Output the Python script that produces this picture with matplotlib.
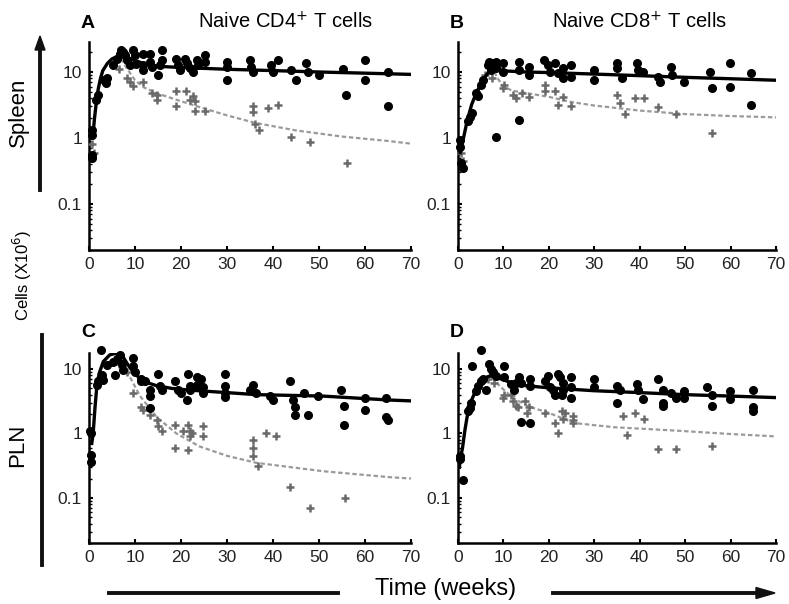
import matplotlib as mpl
mpl.use('Agg')
import matplotlib.pyplot as plt
from matplotlib.lines import Line2D
import numpy as np

plt.rcParams['font.family'] = ['Liberation Sans', 'DejaVu Sans']

# ---- data (weeks, cells x10^6) ----
# panel A: naive CD4, spleen
a_dot_t = [0.7, 0.7, 0.7, 0.7, 1.6, 1.9, 3.3, 3.7, 4.0, 5.3, 6.0, 6.7, 7.0, 7.4, 7.8, 8.2, 8.9, 9.6, 9.9, 10.3,
           11.8, 11.8, 11.8, 13.2, 13.2, 13.6, 15.0, 15.8, 15.8, 15.5, 19.0, 19.4, 19.7, 20.8, 21.2, 21.9, 22.6,
           23.4, 23.7, 25.2, 25.2, 29.9, 29.9, 29.9, 34.9, 35.3, 35.6, 39.6, 40.0, 41.0, 44.0, 45.0, 47.2, 47.6,
           50.1, 55.2, 55.9, 59.9, 59.9, 64.9, 64.9]
a_dot_v = [1.3, 1.1, 0.55, 0.5, 3.8, 4.5, 7.6, 6.8, 8.0, 12.8, 16, 19, 21.5, 20, 18, 15, 12.8, 21.5, 18, 13,
           19, 12.8, 10.7, 19, 14, 12, 9, 21.5, 15, 12.8, 16, 12.8, 10.7, 16, 13.5, 11.5, 10,
           15, 12.8, 18, 14, 14, 12, 7.6, 15, 12, 10, 12.8, 10, 15, 10.7, 7.6, 13.5, 10,
           9, 11, 4.5, 15, 7.6, 10, 3]
a_crs_t = [0.6, 1.0, 6.5, 8.2, 8.9, 9.6, 11.8, 13.6, 14.7, 14.7, 19.0, 21.0, 19.0, 22.0, 22.6, 23.0, 23.0, 25.2,
           35.6, 35.6, 36.0, 37.0, 39.0, 41.0, 44.0, 48.0, 56.0]
a_crs_v = [0.8, 0.6, 11, 8, 7, 6.1, 7, 4.8, 4.5, 3.8, 5.2, 5.2, 3.0, 3.8, 4.3, 3.6, 2.6, 2.6,
           3.0, 2.5, 1.6, 1.3, 2.8, 3.2, 1.05, 0.88, 0.41]
a_fit_t = [0.8, 1.2, 1.6, 2.0, 2.5, 3, 4, 5, 6, 7, 8, 10, 12, 15, 20, 30, 40, 50, 60, 70]
a_fit_v = [1.0, 2.0, 3.5, 5.5, 8, 10.5, 13.5, 15.8, 17, 17.5, 17, 15, 13.3, 12.2, 11.7, 11, 10.5, 10, 9.6, 9.2]
a_dsh_t = [7, 8, 10, 12, 15, 20, 25, 30, 36, 45, 55, 65, 70]
a_dsh_v = [16, 12, 7.5, 5.8, 4.7, 3.6, 2.8, 2.2, 1.7, 1.3, 1.05, 0.9, 0.82]

# panel B: naive CD8, spleen
b_dot_t = [0.4, 0.4, 0.6, 1.0, 2.2, 2.6, 3.0, 4.0, 4.4, 5.1, 5.5, 6.5, 6.9, 7.2, 7.6, 8.4, 8.4, 8.4, 9.8, 9.8,
           13.4, 13.4, 13.4, 15.6, 15.6, 18.9, 19.9, 20.2, 21.3, 22.0, 23.1, 23.1, 24.9, 24.9, 29.9, 29.9,
           35.0, 35.0, 36.0, 39.3, 39.7, 40.8, 44.0, 44.4, 46.9, 47.2, 49.8, 55.5, 55.9, 59.8, 59.8, 64.5, 64.5]
b_dot_v = [0.93, 0.74, 0.41, 0.35, 1.8, 2.1, 2.4, 4.8, 4.3, 6.4, 7.6, 12.8, 14, 10.7, 13.5, 1.05, 14, 11.5, 13.5, 10,
           14, 1.9, 10.7, 12, 9, 15, 12.8, 10, 13.5, 9.5, 11.5, 8, 12.8, 8.5, 10.7, 7.6,
           13.5, 11.5, 8, 13.5, 10.7, 10, 8.5, 7, 12, 9, 7, 10, 5.7, 13.5, 6, 9.5, 3.2]
b_crs_t = [0.6, 1.0, 6.0, 7.5, 9.8, 10.1, 12.0, 12.7, 14.1, 15.6, 19.2, 19.2, 21.3, 22.0, 23.1, 24.9,
           35.0, 35.7, 36.8, 39.0, 41.0, 44.0, 47.9, 55.9]
b_crs_v = [0.6, 0.45, 9, 8, 5.7, 6.4, 4.5, 4.0, 4.8, 4.2, 6.4, 5.2, 5.2, 3.2, 4.2, 3.0,
           4.5, 3.4, 2.3, 4.0, 4.0, 2.9, 2.3, 1.2]
b_fit_t = [0.5, 1, 2, 3, 4, 5, 6, 7, 8, 9, 10, 15, 20, 30, 40, 50, 60, 70]
b_fit_v = [0.6, 0.85, 1.8, 3.2, 4.8, 6.5, 8.5, 10.5, 11.5, 11, 10.4, 10, 9.8, 9.3, 8.8, 8.3, 7.9, 7.5]
b_dsh_t = [8, 9, 10, 12, 15, 20, 25, 30, 40, 50, 60, 70]
b_dsh_v = [10, 7.5, 6, 5.2, 4.8, 4.2, 3.5, 3.1, 2.6, 2.3, 2.15, 2.05]

# panel C: naive CD4, PLN
c_dot_t = [0.2, 0.5, 0.5, 0.5, 1.7, 2.0, 2.7, 3.1, 2.8, 4.0, 5.3, 6.0, 6.7, 7.1, 7.4, 5.6, 9.6, 9.6, 10.0,
           11.4, 11.4, 12.1, 13.2, 13.2, 13.2, 15.0, 15.4, 15.8, 18.7, 19.4, 20.1, 21.2, 21.5, 21.9, 21.9,
           23.4, 23.4, 24.4, 24.8, 24.8, 29.5, 29.5, 29.5, 29.5, 34.9, 35.6, 36.4, 39.3, 40.0,
           43.6, 44.3, 44.7, 44.7, 46.8, 47.6, 49.8, 54.8, 55.5, 55.5, 59.9, 59.9, 64.6, 64.6, 64.9]
c_dot_v = [1.1, 1.0, 0.47, 0.36, 5.6, 6.5, 19.7, 6.7, 8, 11.5, 13, 14.5, 16.5, 12, 9.6, 8.1, 15, 11, 9,
           7, 6.5, 6.5, 4.7, 3.8, 2.5, 8.5, 5.4, 4.8, 6.5, 4.8, 4.2, 3.3, 8.5, 5.4, 4.8,
           7.5, 5.6, 7, 5.2, 4.2, 8.5, 5.4, 4.2, 3.7, 4.8, 5.6, 4.2, 3.8, 3.3,
           6.5, 3.3, 2.6, 1.9, 4.2, 1.9, 3.8, 4.7, 2.7, 1.35, 3.6, 2.3, 3.6, 1.8, 1.6]
c_crs_t = [6.5, 8.2, 9.6, 11.4, 11.8, 13.2, 14.7, 15.0, 15.8, 18.7, 18.7, 20.5, 21.5, 21.9, 22.3, 21.5, 21.9,
           24.8, 24.8, 35.6, 35.6, 35.6, 36.7, 38.5, 40.7, 43.6, 48.0, 55.7]
c_crs_v = [12, 9, 4.2, 2.6, 2.3, 1.9, 1.6, 1.3, 1.1, 1.35, 0.59, 1.1, 1.35, 1.1, 1.0, 0.55, 0.9,
           1.3, 0.9, 0.79, 0.59, 0.45, 0.31, 1.0, 0.9, 0.15, 0.07, 0.1]
c_fit_t = [0.6, 0.9, 1.3, 1.7, 2.2, 3.1, 4.5, 5.5, 6.7, 7.5, 8.5, 9.6, 11, 12.5, 14.7, 18, 21.9, 30, 36.4, 50.8, 65.3, 70]
c_fit_v = [0.7, 1.0, 2.5, 5.4, 8.5, 13, 16.5, 17.3, 17.5, 15, 11.5, 9, 7.2, 6.2, 5.5, 5.0, 4.7, 4.3, 4.0, 3.8, 3.3, 3.2]
c_dsh_t = [6.7, 8.9, 11.1, 14.7, 19, 24, 30, 36.4, 50.8, 65.3, 70]
c_dsh_v = [14.5, 7.5, 3.8, 1.8, 1.0, 0.63, 0.45, 0.35, 0.26, 0.21, 0.2]

# panel D: naive CD8, PLN
d_dot_t = [0.43, 0.43, 1.15, 2.2, 2.6, 2.9, 3.1, 4.0, 4.4, 5.1, 5.5, 5.1, 6.2, 6.9, 7.3, 7.6, 8.4, 10.1, 10.1,
           11.6, 12.3, 12.7, 13.4, 13.8, 13.8, 15.9, 15.9, 15.9, 19.2, 19.9, 20.2, 21.0, 21.3,
           22.0, 22.4, 23.1, 23.1, 22.8, 24.9, 24.9, 24.9, 29.9, 29.9, 35.0, 35.0, 35.7, 39.3, 39.7, 40.8,
           44.0, 45.1, 45.1, 45.1, 46.9, 48.0, 49.8, 49.8, 54.8, 55.9, 55.9, 59.8, 59.8, 64.9, 64.9, 64.9]
d_dot_v = [0.45, 0.4, 0.19, 2.2, 2.5, 3.0, 11, 4.5, 5.5, 6.5, 7, 20, 4.8, 11.8, 10, 9, 7.8, 11, 7.5,
           5.8, 4.8, 6, 7.5, 6, 1.48, 7, 5.5, 1.45, 6.5, 7.8, 5.2, 4.8, 4,
           8.3, 7.5, 6, 4.8, 4, 7.5, 5.2, 3.6, 7, 5.2, 5.5, 3, 4.8, 5.8, 4.8, 3.4,
           7, 4.8, 3, 2.7, 4.3, 3.6, 4.6, 3.6, 5.2, 4, 2.7, 4.6, 3.4, 4.8, 2.6, 2.2]
d_crs_t = [6.5, 8.0, 9.8, 10.1, 11.6, 12.0, 12.7, 13.1, 14.8, 15.2, 15.6, 19.2, 21.3, 22.0, 22.8, 23.5, 23.1,
           25.3, 25.3, 25.3, 36.3, 37.2, 39.0, 41.0, 44.0, 47.9, 55.9]
d_crs_v = [7, 6, 3.6, 4, 4, 3.2, 2.7, 2.6, 3.2, 2.1, 2.6, 2.1, 1.45, 1.03, 2.2, 2.1, 1.7,
           1.87, 1.6, 1.45, 1.87, 0.95, 2.1, 1.65, 0.57, 0.57, 0.65]
d_fit_t = [0.3, 0.5, 1, 1.5, 2, 3, 4, 5, 6, 7, 8, 10, 12, 15, 20, 30, 40, 50, 60, 70]
d_fit_v = [0.3, 0.4, 0.6, 1.1, 1.8, 3.3, 4.8, 6.2, 7.3, 7.8, 7.6, 6.8, 6.0, 5.5, 5.1, 4.6, 4.3, 4.0, 3.8, 3.6]
d_dsh_t = [7.5, 9.1, 12, 15.6, 19.9, 25.6, 34.3, 48.7, 60, 70]
d_dsh_v = [7.5, 5.5, 3.6, 2.6, 2.1, 1.45, 1.25, 1.1, 0.98, 0.9]

panels = [
    ('A', 'Naive CD4$^{+}$ T cells', a_dot_t, a_dot_v, a_crs_t, a_crs_v, a_fit_t, a_fit_v, a_dsh_t, a_dsh_v),
    ('B', 'Naive CD8$^{+}$ T cells', b_dot_t, b_dot_v, b_crs_t, b_crs_v, b_fit_t, b_fit_v, b_dsh_t, b_dsh_v),
    ('C', None, c_dot_t, c_dot_v, c_crs_t, c_crs_v, c_fit_t, c_fit_v, c_dsh_t, c_dsh_v),
    ('D', None, d_dot_t, d_dot_v, d_crs_t, d_crs_v, d_fit_t, d_fit_v, d_dsh_t, d_dsh_v),
]

W, H = 789, 604
fig = plt.figure(figsize=(W / 100, H / 100), dpi=100)

# axes boxes in pixels: left, top, right, bottom
boxes = [(89, 42, 411, 250), (458, 42, 776, 250), (89, 353, 411, 543), (458, 353, 776, 543)]
ytops = [28.5, 28.5, 17.7, 17.7]
titlex = [0.61, 0.57]

for i, (letter, title, dt, dv, ct, cv, ft, fv, st, sv) in enumerate(panels):
    l, t, r, b = boxes[i]
    ax = fig.add_axes([l / W, 1 - b / H, (r - l) / W, (b - t) / H])
    ax.set_yscale('log')
    ax.set_xlim(0, 70)
    ax.set_ylim(0.02, ytops[i])

    ax.plot(st, sv, color='#9a9a9a', lw=1.6, dashes=(2, 1.2), zorder=2)
    ax.plot(ct, cv, '+', color='#6a6a6a', ms=6, mew=1.8, clip_on=False, zorder=3)
    ax.plot(ft, fv, color='black', lw=2.4, zorder=4)
    ax.plot(dt, dv, 'o', color='black', ms=5.5, clip_on=False, zorder=5)

    for s in ['top', 'right']:
        ax.spines[s].set_visible(False)
    for s in ['left', 'bottom']:
        ax.spines[s].set_linewidth(1.8)
    ax.set_xticks(np.arange(0, 71, 10))
    ax.set_yticks([0.1, 1, 10])
    ax.set_yticklabels(['0.1', '1', '10'])
    ax.tick_params(which='major', direction='in', length=3, width=1.5, labelsize=12.5,
                   labelcolor='#222222', pad=5)
    ax.tick_params(which='minor', direction='in', length=2, width=1)

    ax.text(-0.025, 1.11 if i >= 2 else 1.09, letter, transform=ax.transAxes,
            fontsize=14, fontweight='bold', ha='left', va='center')
    if title:
        ax.text(titlex[i], 1.096, title, transform=ax.transAxes, fontsize=14.5,
                ha='center', va='center')

# side labels
fig.text(18 / W, 1 - 112 / H, 'Spleen', rotation=90, fontsize=16, ha='center', va='center')
fig.text(22 / W, 1 - 275 / H, 'Cells (X10$^{6}$)', rotation=90, fontsize=12, ha='center', va='center')
fig.text(18 / W, 1 - 445 / H, 'PLN', rotation=90, fontsize=16, ha='center', va='center')
fig.text(446 / W, 1 - 589 / H, 'Time (weeks)', fontsize=17, ha='center', va='center')

fig.add_artist(Line2D([109 / W, 338 / W], [1 - 593 / H, 1 - 593 / H], color='#111111', lw=2.8))
fig.add_artist(Line2D([42 / W, 42 / W], [1 - 335 / H, 1 - 565 / H], color='#111111', lw=2.8))
fig.add_artist(Line2D([40 / W, 40 / W], [1 - 190 / H, 1 - 45 / H], color='#111111', lw=2.8))
fig.patches.append(mpl.patches.FancyArrow(40 / W, 1 - 50 / H, 0, 14 / H, width=0, head_width=10 / W,
                                          head_length=14 / H, length_includes_head=True,
                                          transform=fig.transFigure, color='#111111', figure=fig))
fig.add_artist(Line2D([553 / W, 760 / W], [1 - 593 / H, 1 - 593 / H], color='#111111', lw=2.8))
fig.patches.append(mpl.patches.FancyArrow(756 / W, 1 - 593 / H, 19 / W, 0, width=0, head_width=11 / H,
                                          head_length=19 / W, length_includes_head=True,
                                          transform=fig.transFigure, color='#111111', figure=fig))

fig.savefig('out.png', dpi=100)
